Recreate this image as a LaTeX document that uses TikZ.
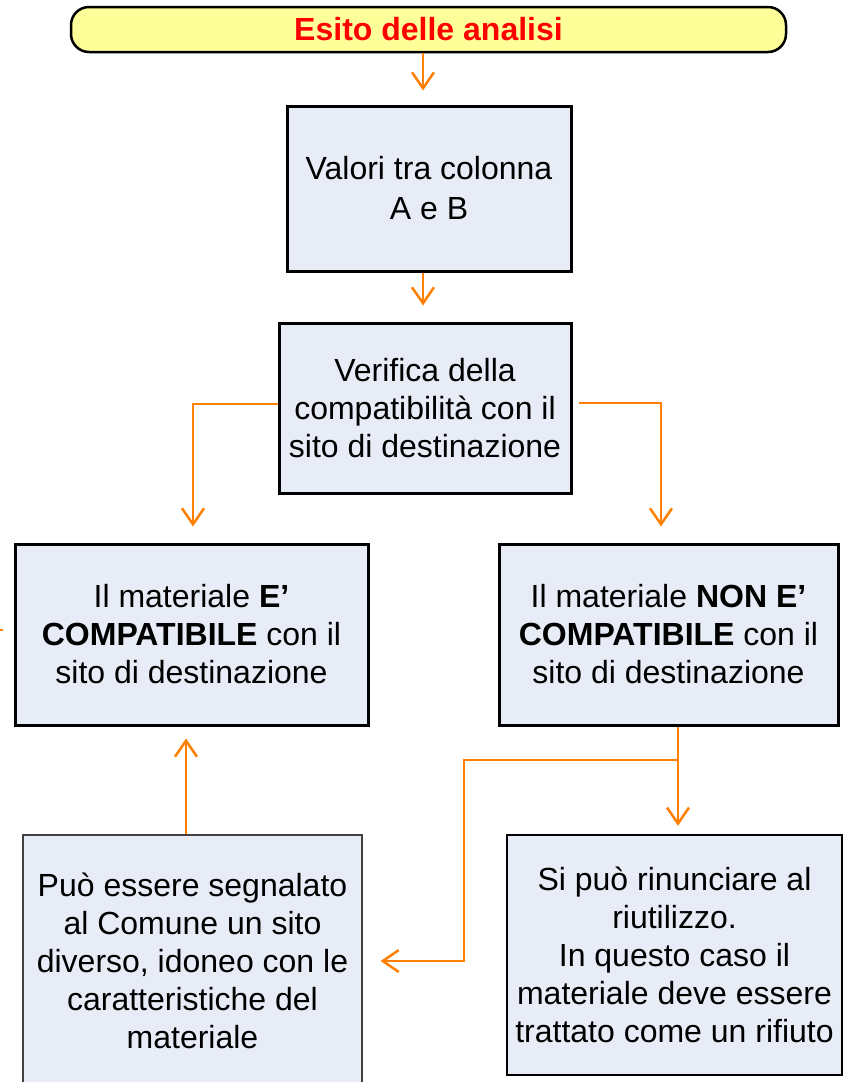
\documentclass[tikz,border=0pt]{standalone}
\usepackage{fontspec}
\setmainfont{Liberation Sans}
\usetikzlibrary{arrows.meta}
\definecolor{boxfill}{RGB}{231,236,246}
\definecolor{hdrfill}{RGB}{255,255,153}
\definecolor{connc}{RGB}{255,128,0}
\definecolor{hdrtext}{RGB}{255,0,0}
\begin{document}
\begin{tikzpicture}[x=1pt,y=-1pt,
  box/.style={draw=black, line width=3pt, fill=boxfill, rectangle, inner sep=0pt,
    align=center, font=\fontsize{32}{38}\selectfont},
  conn/.style={draw=connc, line width=2.5pt, line join=miter,
    -{Straight Barb[length=16pt,width=22pt]}},
  plainconn/.style={draw=connc, line width=2.5pt, line join=miter},
]
\useasboundingbox (0,0) rectangle (843,1082);

\node[draw=black, line width=2.5pt, fill=hdrfill, rounded corners=18pt,
      minimum width=715pt, minimum height=45pt, inner sep=0pt,
      font=\fontsize{32}{38}\selectfont\bfseries, text=hdrtext]
  (header) at (428.5,29.5) {Esito delle analisi};

\node[box, minimum width=284pt, minimum height=165pt, font=\fontsize{32}{40}\selectfont]
  (valori) at (429,188.5) {Valori tra colonna\\A e B};

\node[box, minimum width=292pt, minimum height=170pt]
  (verifica) at (425,408) {Verifica della\\compatibilità con il\\sito di destinazione};

\node[box, minimum width=353pt, minimum height=181pt]
  (compat) at (191.5,634.5) {Il materiale \textbf{E’}\\\textbf{COMPATIBILE} con il\\sito di destinazione};

\node[box, minimum width=339pt, minimum height=181pt]
  (noncompat) at (668.5,634.5) {Il materiale \textbf{NON E’}\\\textbf{COMPATIBILE} con il\\sito di destinazione};

\node[box, line width=1.2pt, draw=black!75, minimum width=339pt, minimum height=252pt]
  (altro) at (192.5,961) {Può essere segnalato\\al Comune un sito\\diverso, idoneo con le\\caratteristiche del\\materiale};

\node[box, line width=2.5pt, minimum width=335pt, minimum height=240pt]
  (rinuncia) at (674.5,955) {Si può rinunciare al\\riutilizzo.\\In questo caso il\\materiale deve essere\\trattato come un rifiuto};

% connectors
\draw[conn, shorten >=14pt] ([xshift=-5.5pt]header.south) -- ([xshift=-5.5pt]header.south |- valori.north);
\draw[conn, shorten >=16pt] ([xshift=-6pt]valori.south) -- ([xshift=-6pt]valori.south |- verifica.north);
\draw[conn, shorten >=16pt] ([yshift=4pt]verifica.west) -| ([xshift=1.5pt]compat.north);
\draw[conn, shorten >=16pt] ([xshift=6pt,yshift=5pt]verifica.east) -| ([xshift=-7.5pt]noncompat.north);
\draw[conn, shorten >=8pt] ([xshift=9.5pt]noncompat.south) -- ([xshift=9.5pt]noncompat.south |- rinuncia.north);
\coordinate (split) at ([xshift=9.5pt]noncompat.south |- 0,760);
\coordinate (bend) at (464,760);
\draw[conn, shorten >=18pt] (split) -- (bend) |- (altro.east);
\draw[conn, shorten >=12pt] ([xshift=-6.5pt]altro.north) -- ([xshift=-6.5pt]altro.north |- compat.south);
% fragment at left edge
\coordinate (fragA) at (0,630);
\coordinate (fragB) at (3,630);
\draw[plainconn] (fragA) -- (fragB);
\end{tikzpicture}
\end{document}
